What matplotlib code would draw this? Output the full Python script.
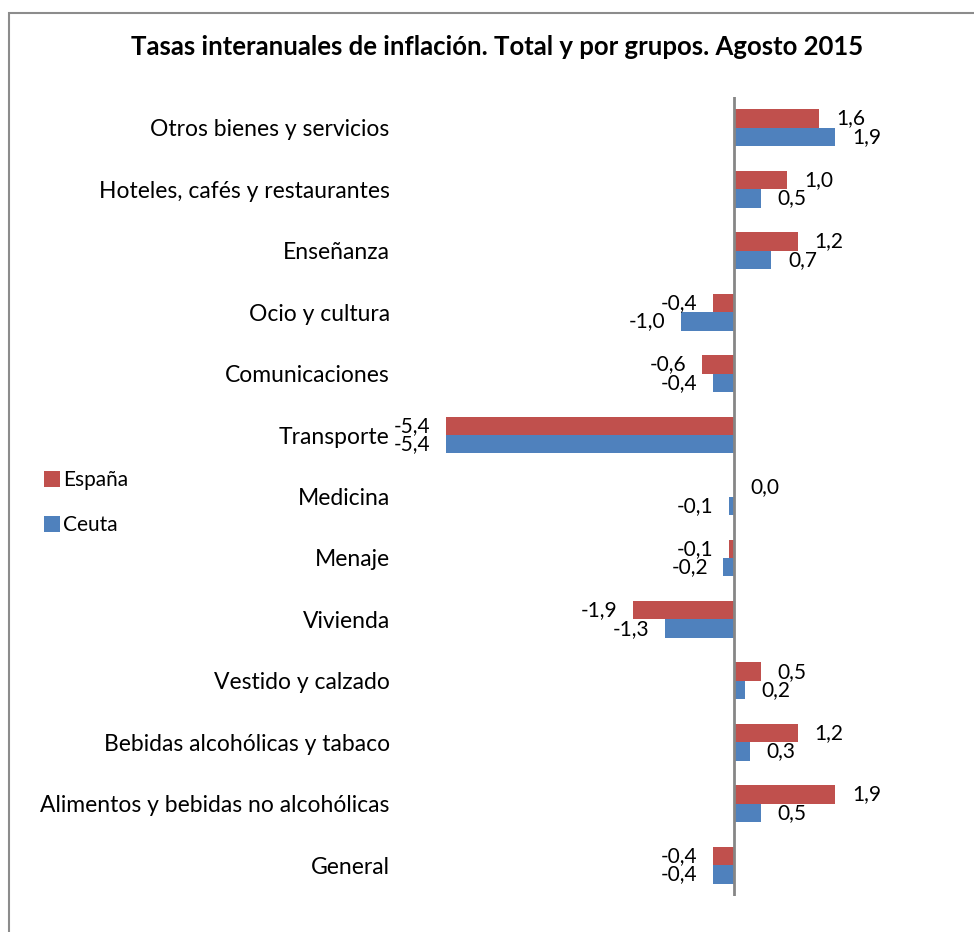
import matplotlib.pyplot as plt
from matplotlib.patches import Rectangle

# categories listed bottom to top
categorias = ['General', 'Alimentos y bebidas no alcohólicas', 'Bebidas alcohólicas y tabaco',
              'Vestido y calzado', 'Vivienda', 'Menaje', 'Medicina', 'Transporte',
              'Comunicaciones', 'Ocio y cultura', 'Enseñanza', 'Hoteles, cafés y restaurantes',
              'Otros bienes y servicios']
espana = [-0.4, 1.9, 1.2, 0.5, -1.9, -0.1, 0.0, -5.4, -0.6, -0.4, 1.2, 1.0, 1.6]
ceuta = [-0.4, 0.5, 0.3, 0.2, -1.3, -0.2, -0.1, -5.4, -0.4, -1.0, 0.7, 0.5, 1.9]

rojo = '#C0504D'
azul = '#4F81BD'

plt.rcParams['font.family'] = ['Lato', 'DejaVu Sans']

fig = plt.figure(figsize=(9.74, 9.32), dpi=100)
ax = fig.add_axes([414 / 974, 1 - 896 / 932, 480 / 974, 799 / 932])

y = list(range(len(categorias)))
h = 0.3
b1 = ax.barh([v + h / 2 for v in y], espana, height=h, color=rojo, label='España')
b2 = ax.barh([v - h / 2 for v in y], ceuta, height=h, color=azul, label='Ceuta')

def etiquetas(bars, vals):
    for bar, v in zip(bars, vals):
        yc = bar.get_y() + bar.get_height() / 2
        txt = ('%.1f' % v).replace('.', ',')
        if v >= 0:
            ax.annotate(txt, (v, yc), xytext=(12, 0), textcoords='offset points',
                        ha='left', va='center', fontsize=15)
        else:
            ax.annotate(txt, (v, yc), xytext=(-11, 0), textcoords='offset points',
                        ha='right', va='center', fontsize=15)

etiquetas(b1, espana)
etiquetas(b2, ceuta)

ax.set_xlim(-6, 3)
ax.set_ylim(-0.5, len(categorias) - 0.5)
ax.set_yticks(y)
ax.set_yticklabels(categorias, fontsize=16.5)
ax.tick_params(axis='y', length=0, pad=17.5)
ax.set_xticks([])
for s in ['top', 'right', 'bottom', 'left']:
    ax.spines[s].set_visible(False)
ax.axvline(0, color='#868686', lw=2)

fig.text(497 / 974, 1 - 47 / 932, 'Tasas interanuales de inflación. Total y por grupos. Agosto 2015',
         ha='center', va='center', fontsize=18.5, fontweight='bold')

fig.legend(handles=[b1, b2], loc='upper left', bbox_to_anchor=(36 / 974, 1 - 462 / 932),
           frameon=False, fontsize=15, handlelength=0.75, handleheight=0.75,
           handletextpad=0.15, labelspacing=1.2, borderaxespad=0)

fig.patches.append(Rectangle((9 / 974, -0.2), 2, 1.2 - 12.5 / 932, transform=fig.transFigure,
                             fill=False, edgecolor='#8C8C8C', lw=1.5, figure=fig))

fig.savefig('out.png', dpi=100)
